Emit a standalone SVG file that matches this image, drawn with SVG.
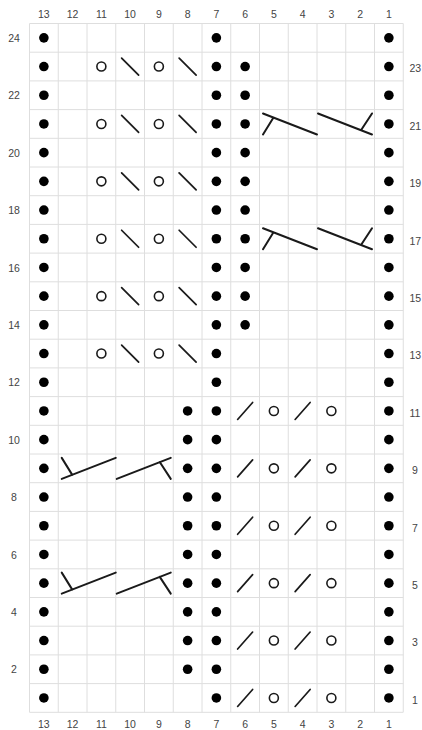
<svg xmlns="http://www.w3.org/2000/svg" xmlns:xlink="http://www.w3.org/1999/xlink" width="422" height="730" viewBox="0 0 422 730">
<style>
.grid{fill:none;stroke:#dedede;stroke-width:1}
.dot{fill:#000}
.yo{fill:none;stroke:#1a1a1a;stroke-width:1.6}
.ln{fill:none;stroke:#1a1a1a;stroke-width:1.7;stroke-linecap:round}
.cb{fill:none;stroke:#1a1a1a;stroke-width:2;stroke-linecap:round}
.lbl{font-family:"Liberation Sans",Arial,sans-serif;font-size:10.5px;fill:#444}
.c{text-anchor:middle}
</style>
<defs>
<circle id="dot" r="4.8" class="dot"/>
<circle id="yo" r="4.5" class="yo"/>
<line id="bs" x1="-8.5" y1="-8.5" x2="8.5" y2="8.5" class="ln"/>
<line id="fs" x1="-7.5" y1="8.5" x2="7.5" y2="-8.5" class="ln"/>
<path id="cableA" class="cb" d="M-54,-10.5 L0,10.5 M-43.5,-6.5 L-54,10.5 M1,-10.5 L55,10.5 M44,6.3 L55,-10.5"/>
<path id="cableB" class="cb" d="M-54,10.5 L0,-10.5 M-43.5,6.5 L-54,-10.5 M1,10.5 L55,-10.5 M44,-6.3 L55,10.5"/>
<g id="pDots3">
<use href="#dot" x="43.875"/><use href="#dot" x="216.375"/><use href="#dot" x="388.875"/>
</g>
<g id="pDots4a">
<use href="#pDots3"/><use href="#dot" x="245.125"/>
</g>
<g id="pDots4b">
<use href="#pDots3"/><use href="#dot" x="187.625"/>
</g>
<g id="pYoTop">
<use href="#pDots3"/>
<use href="#yo" x="101.375"/><use href="#bs" x="130.125"/><use href="#yo" x="158.875"/><use href="#bs" x="187.625"/>
</g>
<g id="pYoTop6">
<use href="#pYoTop"/><use href="#dot" x="245.125"/>
</g>
<g id="pLaceBot">
<use href="#pDots3"/>
<use href="#fs" x="245.125"/><use href="#yo" x="273.875"/><use href="#fs" x="302.625"/><use href="#yo" x="331.375"/>
</g>
<g id="pLaceBot8">
<use href="#pLaceBot"/><use href="#dot" x="187.625"/>
</g>
</defs>
<rect width="422" height="730" fill="#fff"/>
<g id="grid">
<path class="grid" d="M29.5,23.5V712.3M58.25,23.5V712.3M87,23.5V712.3M115.75,23.5V712.3M144.5,23.5V712.3M173.25,23.5V712.3M202,23.5V712.3M230.75,23.5V712.3M259.5,23.5V712.3M288.25,23.5V712.3M317,23.5V712.3M345.75,23.5V712.3M374.5,23.5V712.3M403.25,23.5V712.3
M29.5,23.5H403.25M29.5,52.2H403.25M29.5,80.9H403.25M29.5,109.6H403.25M29.5,138.3H403.25M29.5,167H403.25M29.5,195.7H403.25M29.5,224.4H403.25M29.5,253.1H403.25M29.5,281.8H403.25M29.5,310.5H403.25M29.5,339.2H403.25M29.5,367.9H403.25M29.5,396.6H403.25M29.5,425.3H403.25M29.5,454H403.25M29.5,482.7H403.25M29.5,511.4H403.25M29.5,540.1H403.25M29.5,568.8H403.25M29.5,597.5H403.25M29.5,626.2H403.25M29.5,654.9H403.25M29.5,683.6H403.25M29.5,712.3H403.25"/>
</g>
<g id="col-labels" class="lbl c">
<text x="43.875" y="17.8">13</text><text x="72.625" y="17.8">12</text><text x="101.375" y="17.8">11</text><text x="130.125" y="17.8">10</text><text x="158.875" y="17.8">9</text><text x="187.625" y="17.8">8</text><text x="216.375" y="17.8">7</text><text x="245.125" y="17.8">6</text><text x="273.875" y="17.8">5</text><text x="302.625" y="17.8">4</text><text x="331.375" y="17.8">3</text><text x="360.125" y="17.8">2</text><text x="388.875" y="17.8">1</text>
<text x="43.875" y="728">13</text><text x="72.625" y="728">12</text><text x="101.375" y="728">11</text><text x="130.125" y="728">10</text><text x="158.875" y="728">9</text><text x="187.625" y="728">8</text><text x="216.375" y="728">7</text><text x="245.125" y="728">6</text><text x="273.875" y="728">5</text><text x="302.625" y="728">4</text><text x="331.375" y="728">3</text><text x="360.125" y="728">2</text><text x="388.875" y="728">1</text>
</g>
<g id="row-labels-left" class="lbl c">
<text x="14" y="42">24</text><text x="14" y="99.4">22</text><text x="14" y="156.8">20</text><text x="14" y="214.2">18</text><text x="14" y="271.6">16</text><text x="14" y="329">14</text><text x="14" y="386.4">12</text><text x="14" y="443.8">10</text><text x="14" y="501.2">8</text><text x="14" y="558.6">6</text><text x="14" y="616">4</text><text x="14" y="673.4">2</text>
</g>
<g id="row-labels-right" class="lbl">
<text x="409.5" y="72.3">23</text><text x="409.5" y="129.7">21</text><text x="409.5" y="187.1">19</text><text x="409.5" y="244.5">17</text><text x="409.5" y="301.9">15</text><text x="409.5" y="359.3">13</text><text x="409.5" y="416.7">11</text><text x="412" y="474.1">9</text><text x="412" y="531.5">7</text><text x="412" y="588.9">5</text><text x="412" y="646.3">3</text><text x="412" y="703.7">1</text>
</g>
<g id="row-24"><use href="#pDots3" y="37.85"/></g>
<g id="row-23"><use href="#pYoTop6" y="66.55"/></g>
<g id="row-22"><use href="#pDots4a" y="95.25"/></g>
<g id="row-21"><use href="#pYoTop6" y="123.95"/><use href="#cableA" x="317" y="123.95"/></g>
<g id="row-20"><use href="#pDots4a" y="152.65"/></g>
<g id="row-19"><use href="#pYoTop6" y="181.35"/></g>
<g id="row-18"><use href="#pDots4a" y="210.05"/></g>
<g id="row-17"><use href="#pYoTop6" y="238.75"/><use href="#cableA" x="317" y="238.75"/></g>
<g id="row-16"><use href="#pDots4a" y="267.45"/></g>
<g id="row-15"><use href="#pYoTop6" y="296.15"/></g>
<g id="row-14"><use href="#pDots4a" y="324.85"/></g>
<g id="row-13"><use href="#pYoTop" y="353.55"/></g>
<g id="row-12"><use href="#pDots3" y="382.25"/></g>
<g id="row-11"><use href="#pLaceBot8" y="410.95"/></g>
<g id="row-10"><use href="#pDots4b" y="439.65"/></g>
<g id="row-9"><use href="#pLaceBot8" y="468.35"/><use href="#cableB" x="115.75" y="468.35"/></g>
<g id="row-8"><use href="#pDots4b" y="497.05"/></g>
<g id="row-7"><use href="#pLaceBot8" y="525.75"/></g>
<g id="row-6"><use href="#pDots4b" y="554.45"/></g>
<g id="row-5"><use href="#pLaceBot8" y="583.15"/><use href="#cableB" x="115.75" y="583.15"/></g>
<g id="row-4"><use href="#pDots4b" y="611.85"/></g>
<g id="row-3"><use href="#pLaceBot8" y="640.55"/></g>
<g id="row-2"><use href="#pDots4b" y="669.25"/></g>
<g id="row-1"><use href="#pLaceBot" y="697.95"/></g>
</svg>
